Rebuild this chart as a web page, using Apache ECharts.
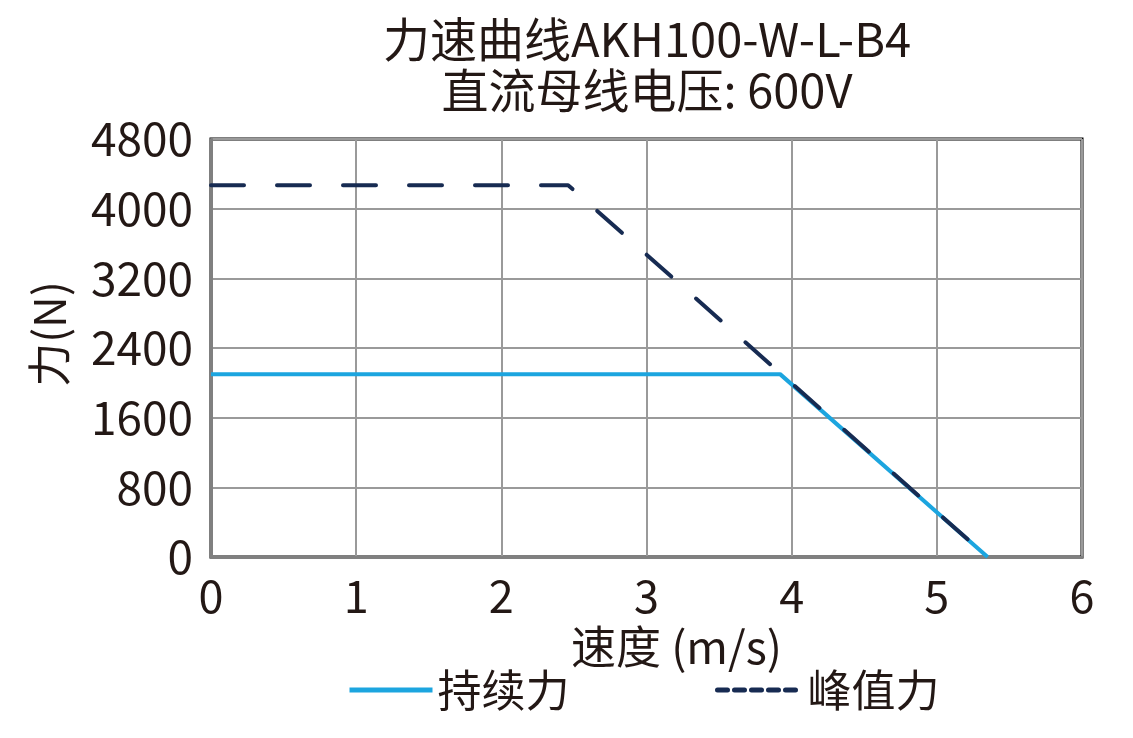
<!DOCTYPE html>
<html>
<head>
<meta charset="utf-8">
<script src="https://cdn.jsdelivr.net/npm/echarts@6/dist/echarts.min.js"></script>
<style>html,body{margin:0;padding:0;background:#fff;}#c{width:1133px;height:738px;}</style>
</head>
<body>
<div id="c"></div>
<script>
const titleText = '力速曲线AKH100-W-L-B4\n直流母线电压: 600V';
const xName = '速度 (m/s)';
const yName = '力(N)';
const seriesNames = ['持续力', '峰值力'];
const contSpeed = [0, 3.92, 5.35];
const contForce = [2100, 2100, 0];
const peakSpeed = [0, 2.46, 5.35];
const peakForce = [4270, 4270, 0];

const TXT = '#231815';
const FONT = '"Noto Sans CJK SC", "Noto Sans", sans-serif';
const legendText = { color: TXT, fontSize: 44, fontFamily: FONT };
const chart = echarts.init(document.getElementById('c'));
chart.setOption({
  animation: false,
  backgroundColor: '#fff',
  title: {
    text: titleText,
    left: 642, top: 9, textAlign: 'center',
    textStyle: { color: TXT, fontSize: 47, fontWeight: 'normal', fontFamily: FONT, lineHeight: 51 }
  },
  grid: { left: 211, right: 51, top: 139, bottom: 181, show: true, borderColor: '#000', borderWidth: 3, containLabel: false },
  legend: [
    {
      left: 347, top: 668, padding: 0, itemWidth: 83, itemHeight: 20,
      textStyle: legendText,
      data: [{ name: seriesNames[0], lineStyle: { width: 5 }, itemStyle: { opacity: 0 } }]
    },
    {
      left: 715, top: 668, padding: 0, itemWidth: 85, itemHeight: 20,
      textStyle: legendText,
      data: [{ name: seriesNames[1], lineStyle: { width: 5, type: [10, 7], cap: 'round' }, itemStyle: { opacity: 0 } }]
    }
  ],
  xAxis: {
    type: 'value', min: 0, max: 6, interval: 1,
    name: xName, nameLocation: 'middle', nameGap: 67,
    nameTextStyle: { color: TXT, fontSize: 45, fontFamily: FONT, padding: [0, 0, 0, 60] },
    axisLine: { show: true, lineStyle: { color: '#808080', width: 3 } },
    axisTick: { show: false },
    axisLabel: { color: TXT, fontSize: 45, fontFamily: FONT, margin: 16 },
    splitLine: { show: true, lineStyle: { color: '#9a9a9a', width: 2 } }
  },
  yAxis: {
    type: 'value', min: 0, max: 4800, interval: 800,
    name: yName, nameLocation: 'middle', nameGap: 140,
    nameTextStyle: { color: TXT, fontSize: 44, fontFamily: FONT, padding: [0, 0, 0, 28] },
    axisLine: { show: true, lineStyle: { color: '#808080', width: 3 } },
    axisTick: { show: false },
    axisLabel: { color: TXT, fontSize: 46, fontFamily: FONT, margin: 18, formatter: v => String(v) },
    splitLine: { show: true, lineStyle: { color: '#9a9a9a', width: 2 } }
  },
  series: [
    {
      name: seriesNames[0], type: 'line', symbol: 'none', z: 2,
      data: contSpeed.map((v, i) => [v, contForce[i]]),
      lineStyle: { color: '#1CA5DF', width: 4 }, itemStyle: { color: '#1CA5DF' }
    },
    {
      name: seriesNames[1], type: 'line', symbol: 'none', z: 3,
      data: peakSpeed.map((v, i) => [v, peakForce[i]]),
      lineStyle: { color: '#172B52', width: 4, type: [33, 33], cap: 'round' }, itemStyle: { color: '#172B52' }
    }
  ]
});
</script>
</body>
</html>
